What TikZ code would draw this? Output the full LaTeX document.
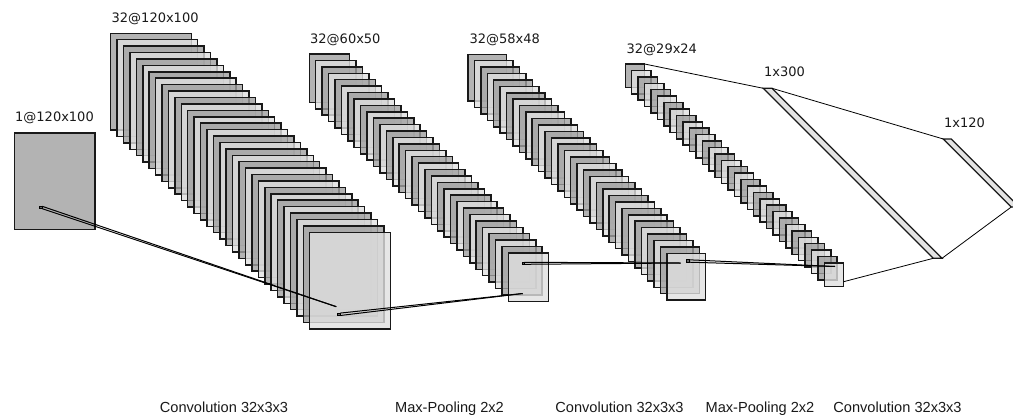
\documentclass[tikz,border=0pt]{standalone}
\usepackage{fontspec}
\newfontfamily\labfont{DejaVu Sans}
\newfontfamily\opfont{Liberation Sans}
\definecolor{fmdark}{HTML}{A0A0A0}
\definecolor{fmlight}{HTML}{E0E0E0}
\tikzset{
  fmap/.style={draw=black!90, line width=1.5pt, fill opacity=0.8, inner sep=0pt, outer sep=0pt, anchor=north west},
  kern/.style={draw=black, fill=black!60, line width=0.8pt, inner sep=0pt, outer sep=0pt, minimum size=#1},
  conn/.style={draw=black, line width=1pt},
  dense/.style={draw=black!90, line width=1.3pt, fill=fmlight, fill opacity=0.9},
  lbl/.style={font=\labfont\fontsize{13}{15}\selectfont, anchor=base west, inner sep=0pt, text=black!90},
  oplbl/.style={font=\opfont\fontsize{14.6}{17}\selectfont, anchor=base, inner sep=0pt, text=black!90}
}
% stack of 32 feature maps: #1 name, #2 x0, #3 y0, #4 w, #5 h
\newcommand{\fmstack}[5]{%
  \foreach \i in {0,...,31}{%
    \pgfmathtruncatemacro\odd{mod(\i,2)}%
    \ifnum\odd=0 \def\fc{fmdark}\else\def\fc{fmlight}\fi
    \node[fmap, fill=\fc, minimum width=#4pt, minimum height=#5pt] (#1-\i) at ({#2+6.419*\i},{#3+6.419*\i}) {};
  }%
}
\begin{document}
\begin{tikzpicture}[x=1pt,y=-1pt]
\useasboundingbox (0,0) rectangle (1013,416);
\clip (0,0) rectangle (1013,416);

% input
\node[fmap, fill=fmdark, minimum width=80.6pt, minimum height=96.7pt] (in) at (14.3,132.8) {};

% feature map stacks
\fmstack{A}{110.7}{33.3}{80.6}{96.7}
\fmstack{B}{309.3}{54}{40.3}{48.4}
\fmstack{C}{468}{54.3}{38.7}{46.8}
\fmstack{D}{625.3}{64}{19.3}{23.4}

% dense layers
\coordinate (E1) at (763.3,88.3);
\coordinate (E2) at (772,88.3);
\coordinate (E3) at (942,258.3);
\coordinate (E4) at (933.3,258.3);
\draw[dense] (E1) -- (E2) -- (E3) -- (E4) -- cycle;
\coordinate (F1) at (943.3,139);
\coordinate (F2) at (951.3,139);
\coordinate (F3) at (1019.3,207);
\coordinate (F4) at (1011.3,207);
\draw[dense] (F1) -- (F2) -- (F3) -- (F4) -- cycle;

% kernels and targets
\node[kern=2.4pt] (k0) at (41,207.5) {};
\coordinate (t0) at (336.3,306.7);
\node[kern=2.4pt] (k1) at (339,314.3) {};
\coordinate (t1) at (522.7,293.5);
\node[kern=2pt] (k2) at (523.3,263.3) {};
\coordinate (t2) at (680.7,263);
\node[kern=2.4pt] (k3) at (688,261) {};
\coordinate (t3) at (835,266.5);

\foreach \k/\t in {k0/t0,k1/t1,k2/t2,k3/t3}{
  \draw[conn] (\k.north east) -- (\t);
  \draw[conn] (\k.south east) -- (\t);
}

% dense connectors
\coordinate (D31r) at (843.6,281.7);
\draw[conn, line width=0.8pt] (D-0.north east) -- (E1);
\draw[conn, line width=0.8pt] (D31r) -- (E4);
\draw[conn, line width=0.8pt] (E2) -- (F1);
\draw[conn, line width=0.8pt] (E3) -- (F4);

% labels
\node[lbl] (l0) at (15,121) {1@120x100};
\node[lbl] (l1) at (111.5,22) {32@120x100};
\node[lbl] (l2) at (310,43) {32@60x50};
\node[lbl] (l3) at (469.3,43) {32@58x48};
\node[lbl] (l4) at (626.5,53) {32@29x24};
\node[lbl] (l5) at (764,76) {1x300};
\node[lbl] (l6) at (944,127.5) {1x120};

\node[oplbl] (o1) at (224,412) {Convolution 32x3x3};
\node[oplbl] (o2) at (449.5,412) {Max-Pooling 2x2};
\node[oplbl] (o3) at (619.5,412) {Convolution 32x3x3};
\node[oplbl] (o4) at (760,412) {Max-Pooling 2x2};
\node[oplbl] (o5) at (897.5,412) {Convolution 32x3x3};
\end{tikzpicture}
\end{document}
